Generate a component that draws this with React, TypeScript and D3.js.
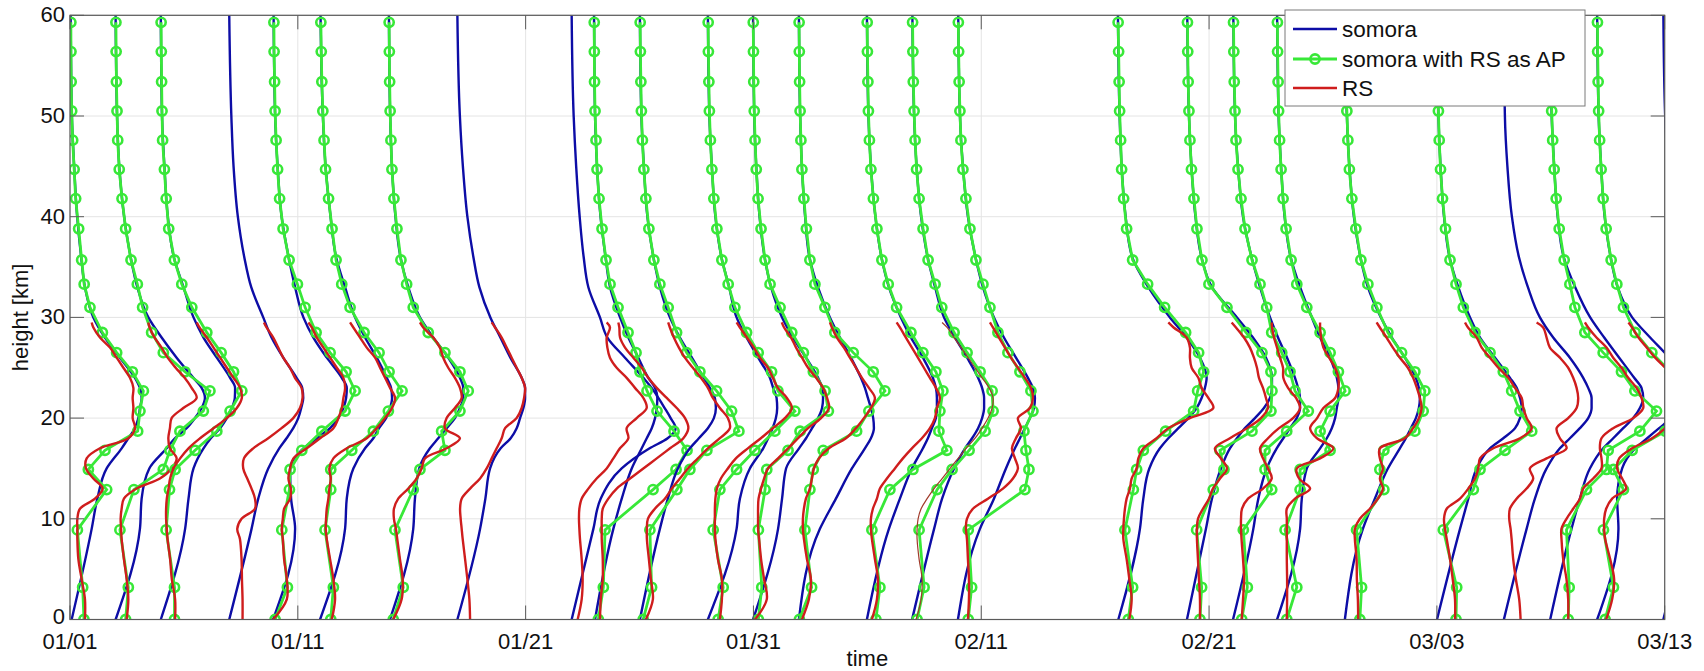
import React from "react";
import * as d3 from "d3";

// ---------- axis data ----------
const X_TICK_LABELS = ["01/01", "01/11", "01/21", "01/31", "02/11", "02/21", "03/03", "03/13"];
const DAY_SPAN = 72; // days shown on the time axis
const Y_TICKS = [0, 10, 20, 30, 40, 50, 60];

// ---------- altitude grids [km] ----------
const AP_H = [0, 3.2, 8.9, 12.9, 14.9, 16.8, 18.7, 20.7, 22.7, 24.6, 26.5, 28.5, 31.0, 33.3, 35.7, 38.8, 41.8, 44.7, 47.6, 50.5, 53.4, 56.4, 59.3];
const SOMORA_H = [0, 9, 12, 15, 17, 18, 19, 20, 21, 22, 23, 24, 26, 28, 30, 33, 36, 40, 45, 50, 60];
const RS_H = [0, 2, 4, 6, 8, 9, 10, 11, 12, 13, 14, 15, 16, 17, 18, 19, 20, 21, 22, 23, 24, 25, 26, 27, 28, 29, 29.5];

// ---------- profile dates (days since 01/01) ----------
const PROFILE_DAYS = [0.03, 2.06, 4.10, 7.19, 9.17, 11.29, 14.40, 17.49, 22.65, 23.66, 25.73, 28.80, 30.84, 32.91, 35.98, 38.02, 40.09, 47.30, 50.43, 52.51, 54.50, 57.56, 61.72, 64.74, 66.83, 68.95, 71.94];

// ---------- ozone profiles [1e12 molec/cm3] ----------
const SOMORA = [
  [0.1, 2.1, 2.67, 3.6, 5.1, 5.77, 6.43, 6.77, 6.93, 7.1, 6.93, 6.43, 4.93, 3.43, 2.27, 1.43, 1.05, 0.65, 0.35, 0.12, 0],
  [0, 2.43, 2.6, 3.37, 5.1, 5.93, 7.1, 7.93, 8.6, 8.93, 8.6, 7.77, 6.1, 4.6, 3.27, 2.17, 1.5, 0.85, 0.36, 0.14, 0],
  [0, 2.43, 2.77, 3.27, 4.27, 5.0, 5.93, 6.6, 7.1, 7.4, 7.43, 6.93, 5.6, 4.27, 3.27, 2.27, 1.3, 0.7, 0.36, 0.12, 0],
  [0, 2.23, 2.9, 3.9, 5.0, 5.73, 6.4, 6.9, 7.2, 7.4, 7.3, 6.73, 5.4, 4.23, 3.4, 2.2, 1.5, 0.86, 0.43, 0.21, 0],
  [0, 2.2, 1.8, 1.7, 3.03, 4.37, 5.7, 6.53, 7.03, 7.3, 7.37, 6.87, 5.37, 4.03, 3.03, 2.2, 1.55, 0.85, 0.45, 0.2, 0.05],
  [0, 2.5, 2.67, 3.33, 4.5, 5.33, 5.9, 6.6, 7.0, 7.2, 7.1, 6.67, 5.67, 4.5, 3.5, 2.5, 1.6, 1.05, 0.55, 0.28, 0.05],
  [0.1, 2.43, 2.6, 3.03, 4.1, 4.93, 5.77, 6.6, 7.1, 7.43, 7.43, 7.1, 5.93, 4.43, 3.1, 1.93, 1.15, 0.65, 0.3, 0.12, 0],
  [0, 2.27, 2.8, 3.27, 4.33, 5.33, 5.93, 6.27, 6.6, 6.77, 6.77, 6.43, 5.3, 4.3, 3.3, 2.2, 1.6, 1.0, 0.55, 0.25, 0],
  [0, 2.17, 2.9, 5.0, 7.8, 9.6, 10.4, 9.9, 9.3, 8.67, 8.0, 7.17, 5.33, 3.57, 2.83, 1.67, 1.2, 0.8, 0.45, 0.2, 0],
  [0.1, 1.93, 2.77, 3.77, 4.77, 5.27, 5.77, 6.1, 6.27, 6.33, 6.1, 5.43, 4.43, 3.43, 2.6, 1.6, 1.15, 0.65, 0.3, 0.1, 0],
  [0, 2.0, 2.8, 3.8, 5.0, 5.9, 6.8, 7.4, 7.6, 7.5, 7.0, 6.4, 5.2, 4.0, 3.0, 2.0, 1.35, 0.75, 0.4, 0.15, 0],
  [0, 2.87, 3.2, 4.2, 5.53, 6.03, 6.47, 6.8, 6.93, 6.87, 6.53, 6.2, 5.03, 3.87, 2.87, 2.13, 1.35, 0.75, 0.4, 0.15, 0],
  [0, 2.5, 2.9, 3.3, 4.6, 5.3, 5.9, 6.5, 6.9, 7.0, 6.9, 6.5, 5.3, 4.0, 2.9, 1.8, 1.15, 0.65, 0.32, 0.12, 0],
  [0, 2.1, 3.7, 5.3, 6.6, 7.2, 7.5, 7.43, 7.2, 6.9, 6.6, 6.2, 5.2, 4.1, 3.1, 1.9, 1.05, 0.62, 0.3, 0.12, 0],
  [0, 2.2, 3.3, 4.5, 5.6, 6.1, 6.5, 6.9, 7.0, 7.0, 6.9, 6.6, 5.6, 4.4, 3.4, 2.2, 1.45, 0.85, 0.4, 0.15, 0],
  [0, 2.2, 3.0, 4.2, 5.3, 6.0, 6.6, 7.0, 7.2, 7.2, 7.0, 6.6, 5.5, 4.3, 3.2, 2.3, 1.55, 0.9, 0.45, 0.2, 0.03],
  [0, 2.2, 3.6, 4.8, 5.7, 6.2, 6.7, 7.2, 7.6, 7.7, 7.5, 7.0, 5.8, 4.6, 3.6, 2.5, 1.75, 1.0, 0.5, 0.2, 0.03],
  [0.07, 2.23, 2.57, 3.17, 4.23, 5.07, 6.07, 7.07, 7.9, 8.4, 8.73, 8.9, 8.23, 6.9, 5.23, 3.07, 1.45, 0.8, 0.4, 0.2, 0.03],
  [0, 1.9, 2.5, 3.4, 4.3, 5.0, 5.8, 6.8, 7.7, 8.3, 8.5, 8.5, 7.9, 6.6, 5.0, 2.5, 1.45, 0.85, 0.45, 0.2, 0.03],
  [0, 2.03, 2.53, 3.37, 4.37, 5.03, 5.7, 6.37, 6.7, 6.7, 6.5, 6.2, 5.4, 4.5, 3.7, 2.7, 1.85, 1.0, 0.5, 0.2, 0.03],
  [0, 2.3, 2.47, 2.97, 4.3, 4.97, 5.47, 5.8, 5.97, 6.13, 6.13, 5.97, 5.3, 4.3, 3.47, 2.3, 1.35, 0.75, 0.4, 0.15, 0],
  [0, 1.8, 3.0, 4.3, 5.5, 6.1, 6.6, 7.1, 7.4, 7.5, 7.4, 7.1, 6.0, 4.7, 3.6, 2.3, 1.55, 0.9, 0.45, 0.2, 0.03],
  [0, 2.3, 3.13, 3.97, 5.3, 6.63, 7.8, 8.3, 8.47, 8.3, 7.97, 7.3, 5.8, 4.3, 3.3, 2.13, 1.25, 0.7, 0.35, 0.14, 0],
  [0, 2.27, 3.1, 4.27, 5.6, 6.6, 7.6, 8.43, 8.77, 8.77, 8.43, 7.93, 6.6, 4.93, 3.6, 2.4, 1.5, 0.8, 0.35, 0.1, 0],
  [0, 2.13, 2.97, 3.97, 5.3, 6.3, 7.3, 8.3, 8.97, 9.3, 9.13, 8.4, 6.9, 5.4, 4.0, 2.5, 1.35, 0.75, 0.4, 0.15, 0],
  [0, 2.13, 2.0, 2.5, 3.8, 5.0, 6.2, 7.4, 8.3, 8.8, 8.9, 8.6, 7.2, 5.3, 3.5, 2.05, 1.35, 0.75, 0.4, 0.15, 0],
  [0, 2.2, 2.9, 3.8, 5.0, 5.8, 6.5, 7.0, 7.3, 7.4, 7.3, 6.9, 5.8, 4.5, 3.4, 2.3, 1.5, 0.85, 0.45, 0.18, 0],
];

const SOMORA_AP: (number[] | null)[] = [
  [1.33, 1.2, 0.67, 3.6, 1.77, 3.43, 6.7, 6.93, 7.27, 6.17, 4.6, 3.17, 1.93, 1.35, 1.1, 0.8, 0.5, 0.35, 0.2, 0.1, 0.05, 0.03, 0.02],
  [1.0, 1.27, 0.43, 1.83, 4.77, 5.43, 6.43, 8.77, 9.43, 6.93, 4.77, 3.6, 2.7, 2.17, 1.54, 1.0, 0.64, 0.36, 0.21, 0.14, 0.08, 0.05, 0.03],
  [1.37, 1.37, 0.53, 0.87, 1.43, 3.43, 5.6, 6.93, 8.1, 7.27, 6.03, 4.6, 3.1, 2.1, 1.36, 0.79, 0.54, 0.36, 0.18, 0.12, 0.08, 0.05, 0.03],
  null,
  [0.2, 1.43, 0.87, 1.63, 1.7, 2.87, 4.87, 7.2, 8.2, 7.3, 5.7, 4.3, 3.2, 2.43, 1.6, 1.0, 0.65, 0.45, 0.3, 0.2, 0.15, 0.1, 0.08],
  [1.07, 1.33, 0.5, 1.07, 1.07, 3.17, 5.33, 6.83, 8.2, 6.9, 5.9, 4.4, 3.0, 2.17, 1.6, 1.2, 0.85, 0.55, 0.4, 0.28, 0.18, 0.12, 0.08],
  [0.43, 1.43, 0.6, 2.43, 3.1, 5.6, 5.27, 7.1, 7.93, 7.1, 5.6, 3.93, 2.43, 1.77, 1.2, 0.8, 0.5, 0.3, 0.2, 0.12, 0.07, 0.04, 0.02],
  null,
  null,
  [0.43, 0.93, 1.1, 5.9, 8.2, 9.3, 8.0, 6.3, 5.3, 4.6, 4.2, 3.4, 2.4, 1.6, 1.2, 0.8, 0.5, 0.3, 0.2, 0.1, 0.05, 0.03, 0.02],
  [0.33, 1.17, 1.0, 3.7, 5.0, 6.7, 9.9, 9.17, 7.67, 6.0, 4.67, 3.67, 2.83, 2.0, 1.4, 0.9, 0.6, 0.4, 0.25, 0.15, 0.1, 0.05, 0.03],
  [1.03, 1.53, 0.53, 1.2, 2.87, 4.7, 6.7, 8.7, 7.0, 6.37, 5.03, 3.87, 2.7, 2.03, 1.4, 0.9, 0.6, 0.4, 0.25, 0.15, 0.1, 0.05, 0.03],
  [0.53, 0.87, 0.53, 1.2, 1.37, 3.5, 4.7, 7.53, 7.2, 6.03, 5.03, 3.87, 2.7, 1.7, 1.2, 0.8, 0.5, 0.32, 0.2, 0.12, 0.07, 0.04, 0.02],
  [0.05, 1.27, 0.6, 1.1, 1.43, 2.43, 5.77, 7.0, 8.6, 7.43, 5.43, 3.6, 2.6, 1.6, 1.1, 0.75, 0.5, 0.3, 0.2, 0.12, 0.07, 0.04, 0.02],
  [0.9, 1.3, 0.5, 2.3, 4.6, 8.0, 7.2, 7.3, 7.6, 6.9, 5.6, 4.4, 2.97, 2.13, 1.5, 1.0, 0.65, 0.4, 0.25, 0.15, 0.1, 0.05, 0.03],
  [0.5, 1.2, 0.7, 2.5, 4.0, 5.7, 7.3, 8.1, 8.0, 6.8, 5.5, 4.2, 2.97, 2.3, 1.6, 1.1, 0.7, 0.45, 0.3, 0.2, 0.12, 0.08, 0.05],
  [1.03, 1.37, 1.03, 6.7, 7.1, 6.8, 6.6, 7.5, 7.3, 6.2, 5.0, 4.0, 3.2, 2.5, 1.8, 1.2, 0.8, 0.5, 0.3, 0.2, 0.12, 0.07, 0.04],
  [1.07, 1.5, 0.73, 1.57, 1.9, 2.57, 4.8, 7.6, 8.0, 8.6, 8.1, 6.8, 4.7, 3.0, 1.5, 0.9, 0.6, 0.4, 0.3, 0.2, 0.15, 0.1, 0.05],
  [1.3, 1.47, 0.97, 2.63, 3.7, 3.3, 6.5, 8.4, 8.5, 8.4, 7.5, 5.9, 4.0, 2.2, 1.5, 1.0, 0.7, 0.45, 0.3, 0.2, 0.12, 0.08, 0.05],
  [0.87, 1.43, 1.03, 3.87, 3.2, 3.2, 5.37, 7.53, 6.2, 5.7, 4.87, 3.87, 3.37, 2.7, 1.9, 1.2, 0.8, 0.5, 0.3, 0.2, 0.12, 0.08, 0.05],
  [0.97, 1.97, 0.8, 2.3, 2.3, 5.3, 4.3, 5.3, 6.8, 6.13, 5.3, 4.3, 2.97, 1.97, 1.4, 0.9, 0.6, 0.4, 0.25, 0.15, 0.1, 0.05, 0.03],
  [1.5, 1.67, 1.17, 3.9, 3.5, 3.9, 7.0, 7.83, 8.0, 7.0, 5.67, 4.3, 3.2, 2.3, 1.6, 1.1, 0.7, 0.45, 0.3, 0.2, 0.12, 0.08, 0.05],
  [1.9, 1.97, 0.63, 3.63, 4.3, 6.8, 9.47, 8.3, 7.47, 6.63, 5.3, 3.8, 2.63, 1.9, 1.3, 0.85, 0.55, 0.35, 0.22, 0.14, 0.08, 0.05, 0.03],
  null,
  [1.8, 1.9, 1.63, 3.63, 5.63, 5.8, 8.97, 10.63, 8.47, 7.13, 5.3, 3.47, 2.47, 1.97, 1.4, 0.9, 0.6, 0.4, 0.25, 0.15, 0.1, 0.05, 0.03],
  [0.8, 1.63, 0.63, 2.63, 1.63, 3.5, 6.8, 8.8, 9.0, 7.3, 5.47, 3.8, 2.63, 1.97, 1.4, 0.9, 0.6, 0.4, 0.25, 0.15, 0.1, 0.05, 0.03],
  null,
];

const RS: (number[] | null)[] = [
  [1.43, 1.43, 1.1, 0.77, 0.67, 0.67, 0.67, 0.93, 2.43, 3.2, 2.27, 1.53, 1.6, 2.93, 5.77, 6.43, 6.2, 6.27, 6.2, 6.27, 5.93, 5.27, 4.6, 3.93, 2.93, 2.27, 2.1],
  [1.1, 1.27, 1.1, 0.83, 0.6, 0.55, 0.5, 0.6, 0.83, 2.1, 4.43, 5.6, 6.1, 5.43, 5.27, 5.43, 5.6, 6.77, 8.1, 7.6, 6.9, 6.0, 5.2, 4.6, 3.9, 3.4, 3.27],
  [1.43, 1.43, 1.1, 0.93, 0.67, 0.6, 0.53, 0.53, 0.6, 0.77, 0.93, 1.27, 1.93, 2.77, 3.93, 5.27, 6.6, 7.6, 8.1, 7.93, 7.27, 6.6, 5.93, 5.27, 4.6, 3.87, 3.6],
  [1.33, 1.33, 1.27, 1.23, 1.07, 0.8, 1.23, 2.57, 2.57, 2.23, 1.8, 1.4, 1.47, 2.4, 3.9, 5.23, 6.4, 7.07, 7.33, 7.23, 6.57, 6.07, 5.4, 4.9, 4.4, 3.73, 3.47],
  [0, 1.37, 1.37, 1.1, 0.97, 0.87, 0.97, 1.1, 1.7, 1.77, 1.53, 1.7, 2.03, 3.37, 4.7, 6.03, 6.53, 6.87, 7.03, 7.2, 7.03, 6.37, 5.7, 5.03, 4.37, 3.87, 3.53],
  [1.17, 1.5, 1.33, 1.0, 0.67, 0.57, 0.6, 0.67, 0.83, 0.93, 1.07, 0.93, 1.33, 2.67, 4.67, 5.67, 6.5, 7.2, 7.5, 7.0, 6.5, 6.0, 5.5, 4.67, 4.0, 3.33, 3.0],
  [0.43, 1.27, 1.37, 1.1, 0.83, 0.7, 0.5, 0.5, 0.93, 1.93, 2.77, 3.27, 3.6, 5.77, 7.1, 5.6, 5.77, 6.6, 7.27, 7.1, 6.6, 5.93, 5.43, 5.1, 4.43, 3.43, 3.1],
  [1.27, 1.2, 1.0, 0.77, 0.53, 0.43, 0.33, 0.27, 0.43, 1.27, 2.27, 2.93, 3.43, 3.93, 4.43, 4.77, 5.93, 6.43, 6.67, 6.77, 6.43, 5.93, 5.43, 4.93, 4.43, 3.77, 3.43],
  [0.6, 1.0, 1.1, 1.0, 0.83, 0.77, 0.73, 0.77, 1.0, 1.67, 2.5, 3.5, 4.17, 4.83, 5.67, 5.5, 6.5, 7.5, 7.17, 6.33, 5.5, 4.5, 3.83, 3.57, 3.5, 3.83, 3.5],
  [0.6, 0.67, 0.87, 0.87, 0.77, 0.77, 0.77, 0.87, 1.43, 2.27, 3.6, 4.93, 6.27, 7.6, 8.93, 9.43, 9.1, 8.27, 7.27, 6.27, 5.43, 4.77, 3.93, 3.1, 2.6, 2.53, 2.43],
  [0.6, 1.3, 1.1, 0.9, 0.7, 0.7, 0.8, 1.5, 2.5, 3.2, 4.0, 4.8, 5.8, 6.8, 8.0, 9.0, 8.8, 8.0, 7.3, 6.8, 6.1, 5.3, 4.5, 3.9, 3.4, 3.0, 2.83],
  [1.2, 1.4, 1.4, 1.0, 0.75, 0.7, 0.7, 0.7, 0.75, 0.9, 1.3, 2.0, 2.8, 4.0, 5.3, 6.5, 7.7, 8.4, 7.9, 7.0, 6.5, 6.0, 5.2, 4.6, 3.9, 3.2, 2.87],
  [0.2, 1.37, 1.1, 0.8, 0.6, 0.5, 0.5, 0.5, 0.55, 0.8, 1.1, 1.5, 2.5, 3.5, 4.5, 5.5, 6.8, 7.6, 7.4, 7.0, 6.3, 5.5, 4.9, 4.3, 3.8, 3.1, 2.87],
  [0.3, 1.0, 1.2, 0.8, 0.5, 0.4, 0.4, 0.5, 0.7, 1.1, 1.3, 1.5, 2.0, 3.0, 4.7, 5.7, 6.5, 7.2, 7.6, 7.0, 6.3, 5.7, 5.1, 4.5, 3.8, 3.3, 3.1],
  [0.5, 1.0, 1.1, 0.8, 0.5, 0.4, 0.4, 0.6, 1.0, 1.3, 2.0, 2.8, 3.6, 4.5, 5.5, 6.3, 6.8, 7.0, 7.3, 6.9, 6.3, 5.7, 5.1, 4.5, 3.9, 3.3, 2.97],
  [0.4, 0.9, 1.0, 0.7, 0.5, 0.5, 0.6, 0.9, 1.5, 2.2, 3.0, 3.8, 4.6, 5.4, 6.3, 7.0, 7.6, 8.0, 8.1, 7.7, 7.0, 6.3, 5.6, 4.9, 4.2, 3.5, 3.0],
  [1.0, 1.1, 1.1, 1.0, 0.9, 0.8, 0.9, 1.5, 3.0, 4.5, 5.5, 6.0, 5.7, 5.4, 5.8, 6.3, 6.0, 7.2, 7.5, 7.3, 6.7, 6.0, 5.3, 4.7, 4.1, 3.5, 3.2],
  [1.17, 1.4, 1.17, 0.9, 0.57, 0.57, 0.63, 0.73, 0.9, 1.23, 1.4, 1.9, 2.07, 2.57, 3.9, 5.07, 7.23, 9.57, 9.07, 8.4, 8.07, 7.4, 7.23, 7.23, 6.9, 5.6, 5.07],
  [1.3, 1.3, 1.2, 1.1, 1.0, 1.0, 1.1, 1.6, 2.2, 2.6, 3.3, 4.0, 3.4, 2.8, 4.3, 6.0, 7.4, 8.1, 7.9, 7.6, 7.2, 7.0, 6.7, 6.3, 5.7, 4.9, 4.47],
  [0.87, 1.0, 1.1, 1.0, 0.85, 0.8, 0.8, 0.9, 1.5, 3.0, 3.87, 3.5, 3.0, 2.7, 3.5, 4.6, 6.0, 6.7, 6.3, 5.5, 5.03, 5.0, 4.7, 4.4, 4.1, 3.9, 3.87],
  [0.97, 1.0, 1.0, 0.97, 0.97, 0.97, 0.97, 0.97, 1.8, 3.3, 2.2, 1.97, 4.3, 5.63, 3.97, 3.3, 4.0, 4.63, 5.8, 6.13, 6.13, 5.8, 5.2, 4.63, 4.4, 4.3, 4.3],
  [1.33, 1.3, 1.2, 1.17, 1.0, 1.0, 1.5, 2.5, 3.3, 3.8, 3.5, 3.8, 3.5, 3.5, 6.0, 6.83, 7.4, 7.67, 7.5, 7.2, 6.83, 6.3, 5.5, 4.8, 4.17, 3.5, 3.17],
  [1.8, 1.8, 1.57, 1.3, 0.97, 0.8, 0.7, 0.97, 2.3, 3.13, 3.8, 4.13, 4.3, 5.63, 8.3, 9.47, 8.97, 8.63, 8.47, 7.8, 7.13, 6.13, 5.3, 4.47, 3.97, 3.1, 2.8],
  [1.67, 1.53, 1.2, 0.93, 0.77, 0.67, 0.53, 0.6, 1.27, 2.27, 2.93, 2.6, 4.27, 6.27, 5.6, 5.27, 6.43, 7.27, 7.43, 7.27, 6.93, 6.43, 5.6, 4.6, 4.27, 3.93, 3.27],
  [1.8, 1.8, 1.63, 1.3, 1.13, 1.13, 1.63, 2.3, 2.97, 3.3, 4.3, 5.13, 5.13, 4.97, 5.13, 6.3, 8.3, 9.3, 9.13, 8.63, 7.8, 7.13, 6.3, 5.63, 4.63, 3.8, 3.47],
  [0.9, 1.5, 1.7, 1.3, 0.8, 0.7, 0.7, 0.9, 1.5, 2.9, 2.5, 2.0, 2.2, 3.5, 5.5, 6.8, 7.8, 8.3, 8.5, 8.3, 7.7, 6.8, 5.8, 4.97, 4.13, 3.5, 3.13],
  null,
];

// ---------- layout ----------
const WIDTH = 1704;
const HEIGHT = 671;
const PLOT = { left: 70, right: 1664.7, top: 15.3, bottom: 619.5 };
const OZONE_PX_PER_UNIT = 10;
const FONT = "'Liberation Sans', Arial, Helvetica, sans-serif";
const C_BLUE = "#0d0da6";
const C_GREEN = "#38e838";
const C_RED = "#cf1d1d";
const THIN_RS = new Set([15]);

export default function App() {
  const x = d3.scaleLinear().domain([0, DAY_SPAN]).range([PLOT.left, PLOT.right]);
  const y = d3.scaleLinear().domain([0, 60]).range([PLOT.bottom, PLOT.top]);
  const daysPerUnit = OZONE_PX_PER_UNIT / (x(1) - x(0));
  const xTicks = X_TICK_LABELS.map((_, i) => (i * DAY_SPAN) / (X_TICK_LABELS.length - 1));

  const pts = (day: number, vals: number[], hs: number[]): [number, number][] =>
    vals.slice(0, hs.length).map((v, i) => [x(day + v * daysPerUnit), y(hs[i])]);

  const blueLine = d3.line<[number, number]>().curve(d3.curveMonotoneY);
  const redLine = d3.line<[number, number]>().curve(d3.curveCatmullRom.alpha(0.5));
  const greenLine = d3.line<[number, number]>();

  const tickLen = 14;
  const axisColor = "#5a5a5a";
  const gridColor = "#e4e4e4";

  return (
    <svg width={WIDTH} height={HEIGHT} style={{ position: "absolute", left: 0, top: 0, background: "#fff" }}>
      <defs>
        <clipPath id="plotclip">
          <rect x={PLOT.left} y={PLOT.top} width={PLOT.right - PLOT.left} height={PLOT.bottom - PLOT.top} />
        </clipPath>
      </defs>
      <rect x={0} y={0} width={WIDTH} height={HEIGHT} fill="#fff" />
      {/* grid */}
      {xTicks.map((t, i) => (
        <line key={"gx" + i} x1={x(t)} x2={x(t)} y1={PLOT.top} y2={PLOT.bottom} stroke={gridColor} strokeWidth={1} />
      ))}
      {Y_TICKS.map((t) => (
        <line key={"gy" + t} x1={PLOT.left} x2={PLOT.right} y1={y(t)} y2={y(t)} stroke={gridColor} strokeWidth={1} />
      ))}
      {/* profiles */}
      <g clipPath="url(#plotclip)">
        {PROFILE_DAYS.map((day, i) => {
          const ap = SOMORA_AP[i];
          const rs = RS[i];
          const gp = ap ? pts(day, ap, AP_H) : [];
          return (
            <g key={"p" + i}>
              <path d={blueLine(pts(day, SOMORA[i], SOMORA_H)) || ""} fill="none" stroke={C_BLUE} strokeWidth={2.4} />
              {ap && <path d={greenLine(gp) || ""} fill="none" stroke={C_GREEN} strokeWidth={2.8} />}
              {ap &&
                gp.map((p, j) => (
                  <circle key={j} cx={p[0]} cy={p[1]} r={4.6} fill="none" stroke={C_GREEN} strokeWidth={2.6} />
                ))}
              {rs && (
                <path
                  d={redLine(pts(day, rs, RS_H)) || ""}
                  fill="none"
                  stroke={THIN_RS.has(i) ? "#a03a2a" : C_RED}
                  strokeWidth={THIN_RS.has(i) ? 1.2 : 2.4}
                />
              )}
            </g>
          );
        })}
      </g>
      {/* axes box */}
      <rect x={PLOT.left} y={PLOT.top} width={PLOT.right - PLOT.left} height={PLOT.bottom - PLOT.top} fill="none" stroke={axisColor} strokeWidth={1.2} />
      {xTicks.map((t, i) => (
        <g key={"tx" + i}>
          <line x1={x(t)} x2={x(t)} y1={PLOT.bottom} y2={PLOT.bottom - tickLen} stroke={axisColor} />
          <line x1={x(t)} x2={x(t)} y1={PLOT.top} y2={PLOT.top + tickLen} stroke={axisColor} />
          <text x={x(t)} y={649} textAnchor="middle" fontFamily={FONT} fontSize={22} fill="#111">
            {X_TICK_LABELS[i]}
          </text>
        </g>
      ))}
      {Y_TICKS.map((t) => (
        <g key={"ty" + t}>
          <line x1={PLOT.left} x2={PLOT.left + tickLen} y1={y(t)} y2={y(t)} stroke={axisColor} />
          <line x1={PLOT.right} x2={PLOT.right - tickLen} y1={y(t)} y2={y(t)} stroke={axisColor} />
          <text x={PLOT.left - 5} y={y(t) + (t === 0 ? 4.5 : 7)} textAnchor="end" fontFamily={FONT} fontSize={22} fill="#111">
            {t}
          </text>
        </g>
      ))}
      <text x={(PLOT.left + PLOT.right) / 2} y={666} textAnchor="middle" fontFamily={FONT} fontSize={22} fill="#111">
        time
      </text>
      <text
        transform={`translate(${22},${(PLOT.top + PLOT.bottom) / 2}) rotate(-90)`}
        textAnchor="middle"
        dominantBaseline="middle"
        fontFamily={FONT}
        fontSize={22}
        fill="#111"
      >
        height [km]
      </text>
      {/* legend */}
      <g>
        <rect x={1285} y={10} width={300} height={96} fill="#fff" stroke="#7a7a7a" strokeWidth={1} />
        <line x1={1293} x2={1337} y1={29} y2={29} stroke={C_BLUE} strokeWidth={2.4} />
        <text x={1342} y={37} fontFamily={FONT} fontSize={22.5} fill="#111">somora</text>
        <line x1={1293} x2={1337} y1={59} y2={59} stroke={C_GREEN} strokeWidth={2.8} />
        <circle cx={1315} cy={59} r={4.6} fill="none" stroke={C_GREEN} strokeWidth={2.6} />
        <text x={1342} y={67} fontFamily={FONT} fontSize={22.5} fill="#111">somora with RS as AP</text>
        <line x1={1293} x2={1337} y1={88} y2={88} stroke={C_RED} strokeWidth={2.4} />
        <text x={1342} y={96} fontFamily={FONT} fontSize={22.5} fill="#111">RS</text>
      </g>
    </svg>
  );
}
